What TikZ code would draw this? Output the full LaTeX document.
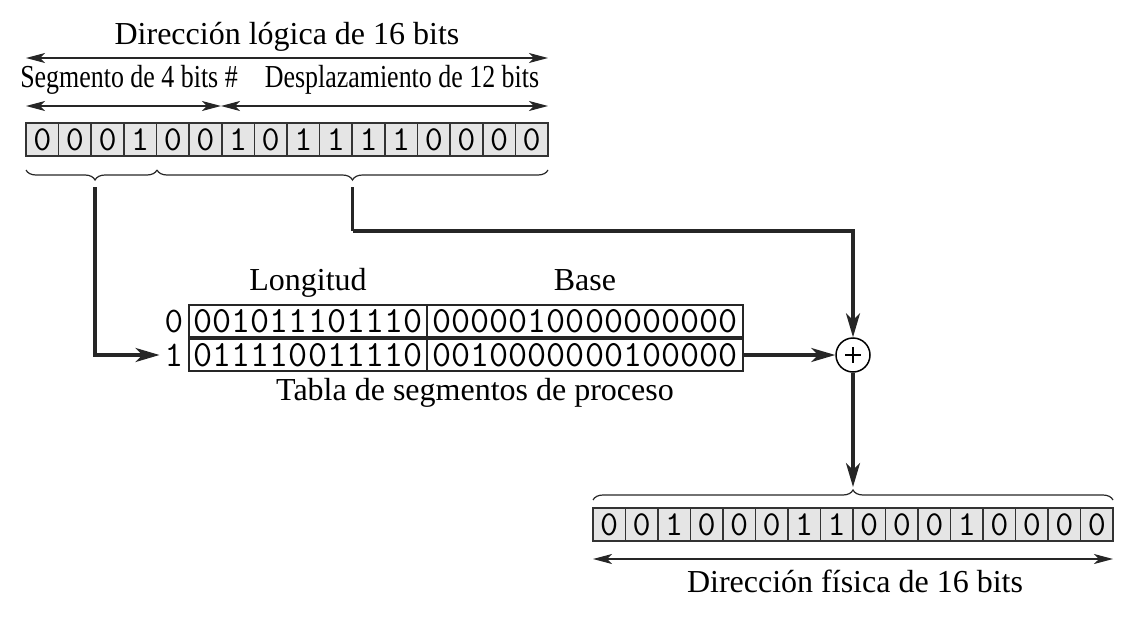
\documentclass[tikz,border=0pt]{standalone}
\usepackage{fontspec}
\setmainfont{Liberation Serif}
\usetikzlibrary{arrows.meta,decorations.pathreplacing,calc}
\begin{document}
\begin{tikzpicture}[x=1pt,y=-1pt,
  lbl/.style={font=\fontsize{32}{36}\selectfont, inner sep=0pt, anchor=base},
  bit/.style={draw=black!80, fill=black!10, line width=1.6pt, minimum width=32.6pt, minimum height=33pt, inner sep=0pt, font=\ttfamily\fontsize{35}{36}\selectfont},
  pbit/.style={bit, minimum width=32.5pt},
  tcell/.style={draw=black!85, line width=1.4pt, minimum height=32pt, inner sep=0pt, font=\ttfamily\fontsize{37}{37}\selectfont},
  rlab/.style={inner sep=0pt, font=\ttfamily\fontsize{36}{36}\selectfont},
  dim/.style={line width=1.3pt, black!85, {Stealth[length=19pt,width=10pt,inset=5pt]}-{Stealth[length=19pt,width=10pt,inset=5pt]}},
  conn/.style={line width=3.2pt, black!85, -{Stealth[length=24pt,width=14pt,inset=7pt]}},
  connp/.style={line width=3.2pt, black!85},
  brc/.style={decorate, decoration={brace, amplitude=10pt}, line width=1.2pt, black!85},
  sumnode/.style={circle, draw=black, line width=1.5pt, minimum size=34pt, inner sep=0pt}
]
\useasboundingbox (0,0) rectangle (1140,618);

% ---- top labels and dimension arrows
\node[lbl] (tlog) at (287,45) {Dirección lógica de 16 bits};
\coordinate (la) at (26,58);
\coordinate (lb) at (548,58);
\draw[dim] (la) -- (lb);
\node[lbl] (tseg) at (129,88) {\scalebox{0.81}[1]{Segmento de 4 bits \#}};
\node[lbl] (tdes) at (402,88) {\scalebox{0.81}[1]{Desplazamiento de 12 bits}};
\coordinate (sa) at (26,106);
\coordinate (sm) at (221,106);
\coordinate (sb) at (548,106);
\draw[dim] (sa) -- (sm);
\draw[dim] (sm) -- (sb);

% ---- logical address register
\foreach \b [count=\i from 0] in {0,0,0,1,0,0,1,0,1,1,1,1,0,0,0,0}{
  \node[bit] (L\i) at ({26+32.625*(\i+0.5)},139.5) {\b};
}

% ---- braces below logical address
\draw[brc, decoration={aspect=0.473}] (157,170) -- (26,170) coordinate[pos=0.473] (segmid);
\draw[brc] (548,170) -- (157,170) coordinate[midway] (offmid);
\coordinate (segtip) at ($(segmid)+(0,17)$);
\coordinate (offtip) at ($(offmid)+(0,17)$);

% ---- segment table
\node[lbl] (hlong) at (308,290) {Longitud};
\node[lbl] (hbase) at (585,290) {Base};
\node[tcell, minimum width=238pt] (l0) at (308,321) {001011101110};
\node[tcell, minimum width=316pt] (b0) at (585,321) {0000010000000000};
\node[tcell, minimum width=238pt] (l1) at (308,355) {011110011110};
\node[tcell, minimum width=316pt] (b1) at (585,355) {0010000000100000};
\node[rlab] (r0) at (174,321) {0};
\node[rlab] (r1) at (174,355) {1};
\node[lbl] (ttab) at (475,400) {Tabla de segmentos de proceso};

% ---- adder
\node[sumnode] (sum) at (853,355) {};
\draw[line width=1.3pt] ($(sum.center)+(-8,0)$) -- ($(sum.center)+(8,0)$);
\draw[line width=1.3pt] ($(sum.center)+(0,-8)$) -- ($(sum.center)+(0,8)$);

% ---- physical address
\foreach \b [count=\i from 0] in {0,0,1,0,0,0,1,1,0,0,0,1,0,0,0,0}{
  \node[pbit] (P\i) at ({593+32.5*(\i+0.5)},524.5) {\b};
}
\draw[brc] (593,500) -- (1113,500) coordinate[midway] (physmid);
\coordinate (phystip) at ($(physmid)+(0,-13)$);
\coordinate (pa) at (593,559);
\coordinate (pb) at (1113,559);
\draw[dim] (pa) -- (pb);
\node[lbl] (tfis) at (855,592) {Dirección física de 16 bits};

% ---- connectors
\draw[conn, shorten >=5pt] (segtip) |- (r1.west);
\draw[connp] (offtip) -- ($(offtip)+(0,44)$) coordinate (offturn);
\draw[conn] (offturn) -| (sum.north);
\draw[conn] (b1.east) -- (sum.west);
\draw[conn] (sum.south) -- (phystip);
\end{tikzpicture}
\end{document}
